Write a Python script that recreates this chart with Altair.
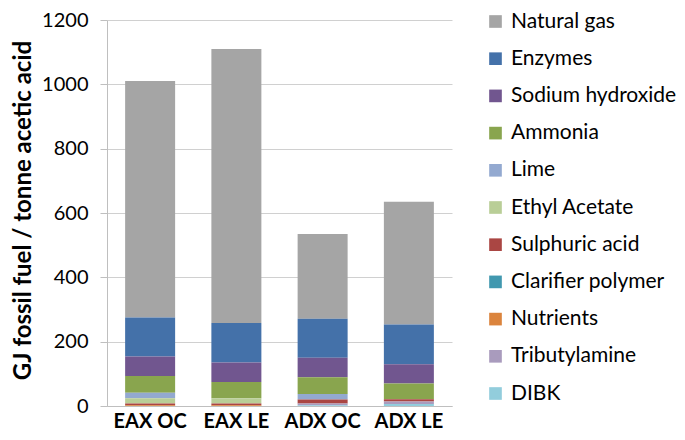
import altair as alt
import pandas as pd

scenarios = ["EAX OC", "EAX LE", "ADX OC", "ADX LE"]
series = ["Natural gas", "Enzymes", "Sodium hydroxide", "Ammonia", "Lime",
          "Ethyl Acetate", "Sulphuric acid", "Clarifier polymer", "Nutrients",
          "Tributylamine", "DIBK"]
colors = ["#A5A5A5", "#4471A9", "#71568F", "#89A54E", "#93A9D0",
          "#B9CE97", "#AA4643", "#4198AF", "#DB843D", "#A99BBD", "#92CDDC"]

natural_gas       = [735, 852, 264, 382]
enzymes           = [121, 123, 121, 123]
sodium_hydroxide  = [61, 60, 61, 60]
ammonia           = [52, 51, 52, 49]
lime              = [17, 0, 17, 0]
ethyl_acetate     = [16, 16, 0, 0]
sulphuric_acid    = [6, 6, 12, 7]
clarifier_polymer = [0, 0, 0, 0]
nutrients         = [2, 2, 0, 0]
tributylamine     = [0, 0, 6, 8]
dibk              = [0, 0, 2, 6]

values = [natural_gas, enzymes, sodium_hydroxide, ammonia, lime, ethyl_acetate,
          sulphuric_acid, clarifier_polymer, nutrients, tributylamine, dibk]

rows = []
for si, (name, vals) in enumerate(zip(series, values)):
    for sc, v in zip(scenarios, vals):
        rows.append({"scenario": sc, "series": name, "value": v,
                     "order": len(series) - si})
df = pd.DataFrame(rows)

FONT = "Lato"

chart = alt.Chart(df).mark_bar(size=50).encode(
    x=alt.X("scenario:N", sort=scenarios, title=None,
            scale=alt.Scale(paddingInner=0.42, paddingOuter=0.21),
            axis=alt.Axis(labelAngle=0, labelFont=FONT, labelFontSize=20,
                          labelFontWeight="bold", labelColor="#000000",
                          domainColor="#BFBFBF", ticks=False, labelPadding=5,
                          grid=False)),
    y=alt.Y("value:Q", stack="zero", title="GJ fossil fuel / tonne acetic acid",
            scale=alt.Scale(domain=[0, 1200]),
            axis=alt.Axis(values=[0, 200, 400, 600, 800, 1000, 1200], format="d",
                          labelFont=FONT, labelFontSize=20, labelColor="#000000",
                          titleFont=FONT, titleFontSize=24, titleFontWeight="bold",
                          titleColor="#000000", titleX=-84, titleY=190,
                          titleBaseline="middle", titleAngle=270,
                          domainColor="#BFBFBF", tickColor="#BFBFBF", tickSize=7,
                          labelPadding=12, gridColor="#D0D0D0")),
    color=alt.Color("series:N", scale=alt.Scale(domain=series, range=colors),
                    legend=alt.Legend(title=None, orient="none", legendX=378,
                                      legendY=-9, symbolType="square",
                                      symbolSize=160, symbolStrokeWidth=0,
                                      labelFont=FONT, labelFontSize=21,
                                      labelColor="#000000", rowPadding=15.2,
                                      labelOffset=5, padding=0, labelLimit=220)),
    order=alt.Order("order:Q", sort="ascending"),
).properties(
    width=345, height=386,
    autosize=alt.AutoSizeParams(type="none"),
    padding={"left": 99, "top": 12, "right": 225, "bottom": 26},
).configure_view(stroke=None)

chart.save("out.html", embed_options={"renderer": "svg", "actions": False})
